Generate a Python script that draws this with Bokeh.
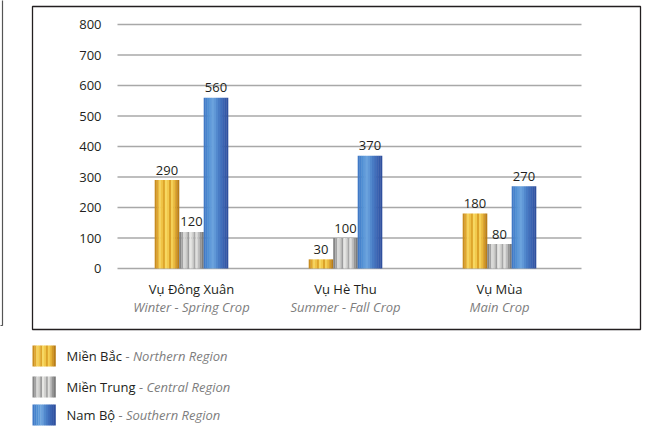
from bokeh.plotting import figure
from bokeh.models import Range1d
from bokeh.core.properties import value
from bokeh.embed import file_html
from bokeh.resources import INLINE

# --- data -------------------------------------------------------------
crops_vi = ["Vụ Đông Xuân", "Vụ Hè Thu", "Vụ Mùa"]
crops_en = ["Winter - Spring Crop", "Summer - Fall Crop", "Main Crop"]
regions_vi = ["Miền Bắc", "Miền Trung", "Nam Bộ"]
regions_en = ["Northern Region", "Central Region", "Southern Region"]
north = [290, 30, 180]
central = [120, 100, 80]
south = [560, 370, 270]
y_ticks = [0, 100, 200, 300, 400, 500, 600, 700, 800]

series = [north, central, south]

# metallic stripe palettes (left -> right across each bar)
gold = ["#c98d1f", "#e0a72d", "#f6d35a", "#f0c445", "#dea62c", "#f7d862",
        "#f2ca4d", "#dca32a", "#f4cf55", "#e9b83b", "#d49a25", "#b97e18"]
silver = ["#868686", "#a3a3a3", "#d9d9d7", "#c8c8c6", "#9c9c9c", "#e6e6e4",
          "#d2d2d0", "#a7a7a7", "#dfdfdd", "#bebebe", "#969696", "#7c7c7c"]
blue = ["#4079c6", "#4784cd", "#5190d4", "#5f9ad9", "#6ba3dd", "#6198d7",
        "#5289cd", "#487bc4", "#406fbb", "#3a64b2", "#345aa9", "#2f509e"]
palettes = [gold, silver, blue]

FONT = value("Open Sans")
INK = "#231f20"
GREY_TXT = "#7d7d7d"

W, H = 650, 429
px_per_unit = 154.0
x0_px = 191.0          # screen x of first category
y0_px = 268.0          # screen y of value 0
px_per_val = 0.305

x_start = -x0_px / px_per_unit
y_start = -(H - y0_px) / px_per_val

p = figure(width=W, height=H, output_backend="svg", toolbar_location=None,
           x_axis_type=None, y_axis_type=None, min_border=0,
           x_range=Range1d(x_start, x_start + W / px_per_unit),
           y_range=Range1d(y_start, y_start + H / px_per_val))
p.grid.visible = False
p.outline_line_color = None
p.background_fill_color = "white"
p.border_fill_color = "white"
p.extra_x_ranges = {"px": Range1d(0, W)}
p.extra_y_ranges = {"px": Range1d(H, 0)}

# panel borders
p.quad(left=[32], right=[640], top=[6], bottom=[329], fill_color=None,
       line_color=INK, line_width=1.3, x_range_name="px", y_range_name="px")
p.line(x=[-1, 2, 2], y=[325, 325, -1], line_color="#555555", line_width=1.2,
       x_range_name="px", y_range_name="px")

# horizontal gridlines
p.segment(x0=[117] * len(y_ticks), x1=[581] * len(y_ticks), y0=y_ticks, y1=y_ticks,
          line_color="#a8a8a8", line_width=1.5, x_range_name="px")

# y tick labels
p.text(x=[101] * len(y_ticks), y=y_ticks, text=[str(t) for t in y_ticks],
       x_range_name="px", text_align="right", text_baseline="middle",
       text_font=FONT, text_font_size="13px", text_color=INK)

# bars, each built from narrow vertical stripes
bar_w = 24.5 / px_per_unit
offsets = [-bar_w, 0.0, bar_w]
for vals, off, pal in zip(series, offsets, palettes):
    n = len(pal)
    sw = bar_w / n
    for k, col in enumerate(pal):
        xs = [i + off - bar_w / 2 + (k + 0.5) * sw for i in range(len(vals))]
        p.vbar(x=xs, top=vals, bottom=0, width=sw * 1.05,
               fill_color=col, line_color=None)
    p.text(x=[i + off for i in range(len(vals))], y=vals,
           text=[str(v) for v in vals], y_offset=-10,
           text_align="center", text_baseline="alphabetic",
           text_font=FONT, text_font_size="13px", text_color=INK)

# category labels
cx = list(range(len(crops_vi)))
p.text(x=cx, y=[0] * len(cx), text=crops_vi, y_offset=20,
       text_align="center", text_baseline="alphabetic",
       text_font=FONT, text_font_size="13px", text_color=INK)
p.text(x=cx, y=[0] * len(cx), text=crops_en, y_offset=38,
       text_align="center", text_baseline="alphabetic",
       text_font=FONT, text_font_size="13px", text_color=GREY_TXT,
       text_font_style="italic")

# legend
sw_tops = [345, 376, 404]
baselines = [355, 386, 414]
en_x = [125, 138.5, 118]
for pal, top, base, vi, en, ex in zip(palettes, sw_tops, baselines,
                                      regions_vi, regions_en, en_x):
    n = len(pal)
    step = 23.0 / n
    lefts = [32 + k * step for k in range(n)]
    p.quad(left=lefts, right=[l + step + 0.3 for l in lefts], top=[top] * n,
           bottom=[top + 21] * n, fill_color=pal, line_color=None,
           x_range_name="px", y_range_name="px")
    p.text(x=[66], y=[base], text=[vi], x_range_name="px", y_range_name="px",
           text_align="left", text_baseline="alphabetic",
           text_font=FONT, text_font_size="13px", text_color=INK)
    p.text(x=[ex], y=[base], text=["- " + en], x_range_name="px",
           y_range_name="px", text_align="left", text_baseline="alphabetic",
           text_font=FONT, text_font_size="13px", text_color=GREY_TXT,
           text_font_style="italic")

open("out.html", "w").write(file_html(p, INLINE))
